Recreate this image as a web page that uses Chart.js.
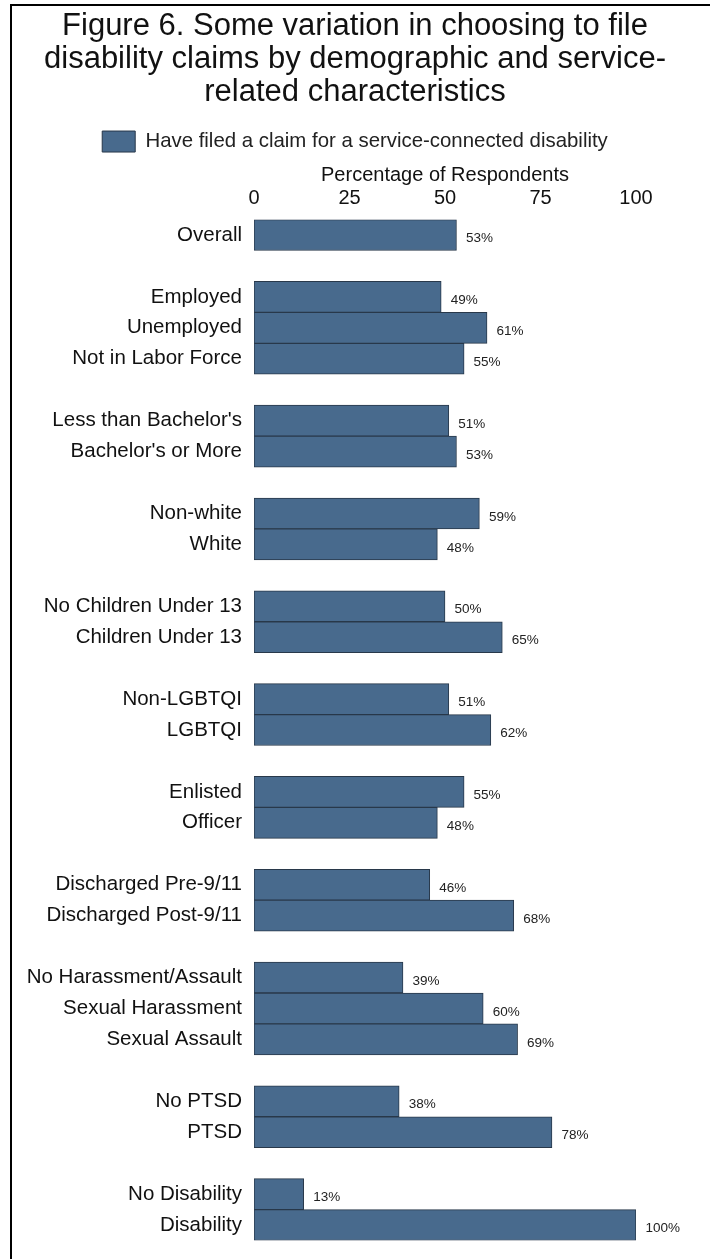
<!DOCTYPE html>
<html>
<head>
<meta charset="utf-8">
<script src="https://cdn.jsdelivr.net/npm/chart.js@4/dist/chart.umd.min.js"></script>
<style>
  html, body { margin: 0; padding: 0; background: #ffffff; }
  #wrap { position: relative; width: 710px; height: 1259px; }
  #frame {
    position: absolute; left: 10px; top: 4px; right: 0; bottom: 0;
    border-top: 2px solid #000; border-left: 2px solid #000;
    pointer-events: none;
  }
  canvas { display: block; }
</style>
</head>
<body>
<div id="wrap">
  <canvas id="chart" width="710" height="1259"></canvas>
  <div id="frame"></div>
</div>
<script>
// Groups of respondent characteristics, one array per group
const groupLabels = [
  ['Overall'],
  ['Employed', 'Unemployed', 'Not in Labor Force'],
  ["Less than Bachelor's", "Bachelor's or More"],
  ['Non-white', 'White'],
  ['No Children Under 13', 'Children Under 13'],
  ['Non-LGBTQI', 'LGBTQI'],
  ['Enlisted', 'Officer'],
  ['Discharged Pre-9/11', 'Discharged Post-9/11'],
  ['No Harassment/Assault', 'Sexual Harassment', 'Sexual Assault'],
  ['No PTSD', 'PTSD'],
  ['No Disability', 'Disability']
];

// Percentage who have filed a claim, in the same order
const groupValues = [
  [53],
  [49, 61, 55],
  [51, 53],
  [59, 48],
  [50, 65],
  [51, 62],
  [55, 48],
  [46, 68],
  [39, 60, 69],
  [38, 78],
  [13, 100]
];

const xTicks = [0, 25, 50, 75, 100];

const titleLines = [
  'Figure 6. Some variation in choosing to file',
  'disability claims by demographic and service-',
  'related characteristics'
];
const seriesName = 'Have filed a claim for a service-connected disability';
const axisTitle = 'Percentage of Respondents';

// Flatten groups, leaving an empty row between them
const categories = [];
const values = [];
groupLabels.forEach((labels, g) => {
  if (g > 0) { categories.push(''); values.push(null); }
  labels.forEach((lab, i) => { categories.push(lab); values.push(groupValues[g][i]); });
});

const FONT = "'Liberation Sans', Arial, Helvetica, sans-serif";
const BAR_FILL = '#486a8d';
const BAR_EDGE = '#28384a';

// Percentage labels to the right of each bar
const valueLabels = {
  id: 'valueLabels',
  afterDatasetsDraw(chart) {
    const ctx = chart.ctx;
    const meta = chart.getDatasetMeta(0);
    ctx.save();
    ctx.font = '13.5px ' + FONT;
    ctx.fillStyle = '#222222';
    ctx.textAlign = 'left';
    ctx.textBaseline = 'middle';
    meta.data.forEach((bar, i) => {
      const v = chart.data.datasets[0].data[i];
      if (v === null || v === undefined) return;
      ctx.fillText(v + '%', bar.x + 9.5, bar.y + 3.5);
    });
    ctx.restore();
  }
};

new Chart(document.getElementById('chart'), {
  type: 'bar',
  data: {
    labels: categories,
    datasets: [{
      label: seriesName,
      data: values,
      backgroundColor: BAR_FILL,
      borderColor: BAR_EDGE,
      borderWidth: 1,
      borderSkipped: false,
      barPercentage: 1,
      categoryPercentage: 1
    }]
  },
  options: {
    indexAxis: 'y',
    responsive: false,
    animation: false,
    devicePixelRatio: 1,
    layout: { padding: { left: 0, right: 0, top: 0, bottom: 18.5 } },
    plugins: {
      title: {
        display: true,
        text: titleLines,
        color: '#111111',
        font: { family: FONT, size: 31, weight: 'normal', lineHeight: 1.065 },
        padding: { top: 10, bottom: 12 }
      },
      legend: {
        display: true,
        position: 'top',
        align: 'center',
        labels: {
          color: '#222222',
          font: { family: FONT, size: 20.4 },
          boxWidth: 33,
          boxHeight: 21,
          padding: 10
        }
      },
      tooltip: { enabled: false }
    },
    scales: {
      x: {
        position: 'top',
        min: 0,
        max: 100,
        afterBuildTicks(scale) { scale.ticks = xTicks.map(v => ({ value: v })); },
        afterFit(scale) { scale.height = 57.5; },
        ticks: {
          color: '#111111',
          font: { family: FONT, size: 20, lineHeight: 1.1 },
          padding: 10.5,
          maxRotation: 0
        },
        title: {
          display: true,
          text: axisTitle,
          color: '#111111',
          font: { family: FONT, size: 20 },
          padding: { top: 1, bottom: 0 }
        },
        grid: { display: false, drawTicks: false },
        border: { display: false }
      },
      y: {
        type: 'category',
        afterFit(scale) {
          scale.width = 254;
          scale.paddingTop = 0;
          scale.paddingBottom = 0;
        },
        ticks: {
          color: '#111111',
          font: { family: FONT, size: 20.5 },
          padding: 12,
          autoSkip: false
        },
        grid: { display: false, drawTicks: false },
        border: { display: false }
      },
      // blank margin to the right of the plot, room for the value labels
      margin: {
        type: 'linear',
        position: 'right',
        afterFit(scale) {
          scale.width = 74;
          scale.paddingTop = 0;
          scale.paddingBottom = 0;
        },
        ticks: { display: false },
        grid: { display: false, drawTicks: false },
        border: { display: false }
      }
    }
  },
  plugins: [valueLabels]
});
</script>
</body>
</html>
